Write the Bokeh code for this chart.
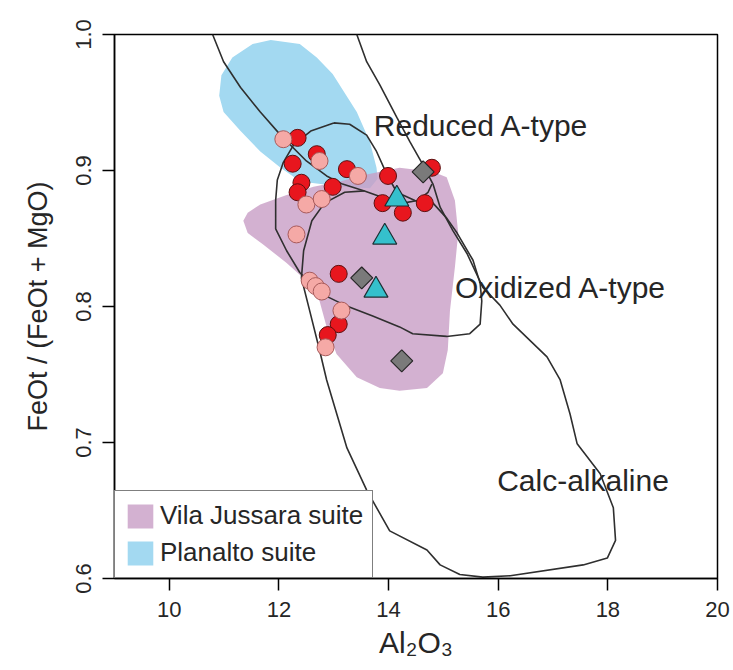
from bokeh.plotting import figure
from bokeh.models import Range1d, FixedTicker, Legend, LegendItem, ColumnDataSource, PrintfTickFormatter
from bokeh.core.properties import value
from bokeh.embed import file_html
from bokeh.resources import INLINE

FONT = "Liberation Sans"
TXT = "#262626"

# ---- samples: Al2O3 (wt%) vs FeOt/(FeOt+MgO) ----
red_al = [12.34, 12.69, 12.25, 13.24, 13.99, 14.79, 12.41, 12.34, 12.98, 13.89, 14.26, 14.66, 13.09, 13.09, 12.89]
red_fe = [0.924, 0.912, 0.905, 0.901, 0.896, 0.902, 0.891, 0.884, 0.888, 0.876, 0.869, 0.876, 0.824, 0.787, 0.779]
pink_al = [12.08, 12.74, 13.44, 12.50, 12.78, 12.32, 12.56, 12.67, 12.78, 13.14, 12.85]
pink_fe = [0.923, 0.907, 0.896, 0.875, 0.879, 0.853, 0.819, 0.815, 0.811, 0.797, 0.770]
tri_al = [14.15, 13.93, 13.77]
tri_fe = [0.879, 0.851, 0.812]
dia_al = [14.63, 13.51, 14.24]
dia_fe = [0.899, 0.821, 0.760]

# ---- suite fields ----
planalto_al = [10.91, 10.95, 11.15, 11.52, 11.85, 12.38, 12.69, 12.98, 13.42, 13.66, 13.78, 13.80, 13.66,
               13.11, 12.76, 12.39, 12.03, 11.66, 11.30, 10.99]
planalto_fe = [0.955, 0.970, 0.983, 0.993, 0.996, 0.993, 0.983, 0.971, 0.943, 0.921, 0.902, 0.894, 0.887,
               0.888, 0.890, 0.892, 0.902, 0.914, 0.929, 0.943]
jussara_al = [11.35, 11.43, 11.66, 12.14, 12.63, 13.11, 13.60, 14.20, 14.81, 15.06, 15.21, 15.27, 15.21,
              15.12, 15.08, 14.99, 14.70, 14.20, 13.84, 13.42, 13.05, 12.87, 12.74, 12.50, 12.14, 11.70, 11.43]
jussara_fe = [0.863, 0.869, 0.875, 0.882, 0.888, 0.892, 0.897, 0.902, 0.899, 0.895, 0.878, 0.854, 0.829,
              0.797, 0.768, 0.751, 0.740, 0.738, 0.740, 0.748, 0.765, 0.785, 0.804, 0.819, 0.832, 0.846, 0.854]

# ---- discrimination field boundaries ----
reduced_al = [10.79, 10.99, 11.30, 11.66, 12.03, 12.50, 12.87, 13.16, 13.56, 13.97, 14.26, 14.53, 14.72, 14.79]
reduced_fe = [1.000, 0.980, 0.961, 0.943, 0.926, 0.907, 0.896, 0.890, 0.885, 0.879, 0.876, 0.878, 0.884, 0.890]
calc_al = [13.42, 13.60, 13.84, 14.15, 14.39, 14.63, 14.81, 14.94, 15.17, 15.43, 15.72, 16.03, 16.27, 16.89,
           17.13, 17.31, 17.44, 17.86, 18.10, 18.14, 17.99, 17.55, 16.22, 15.72, 15.30, 14.94, 14.70, 14.02,
           13.60, 13.24, 12.87, 12.74, 12.56, 12.41, 12.45, 12.60, 12.83, 13.20, 13.56]
calc_fe = [1.000, 0.980, 0.963, 0.939, 0.921, 0.904, 0.890, 0.873, 0.856, 0.839, 0.814, 0.801, 0.787, 0.763,
           0.746, 0.721, 0.699, 0.677, 0.652, 0.628, 0.615, 0.610, 0.602, 0.601, 0.603, 0.610, 0.621, 0.635,
           0.665, 0.696, 0.746, 0.768, 0.797, 0.821, 0.841, 0.863, 0.876, 0.884, 0.885]
oxid_al = [13.00, 13.29, 13.60, 13.78, 13.97, 14.15, 14.48, 14.81, 15.06, 15.25, 15.54, 15.67, 15.70, 15.67,
           15.48, 15.06, 14.44, 14.20, 13.71, 13.20, 12.74, 12.38, 12.14, 11.94, 11.94, 11.97, 12.08, 12.27,
           12.58, 13.00]
oxid_fe = [0.935, 0.934, 0.926, 0.914, 0.897, 0.884, 0.878, 0.876, 0.865, 0.854, 0.834, 0.817, 0.804, 0.787,
           0.780, 0.778, 0.780, 0.785, 0.793, 0.801, 0.810, 0.825, 0.841, 0.857, 0.878, 0.893, 0.906, 0.919,
           0.929, 0.935]

field_names = ["Reduced A-type", "Oxidized A-type", "Calc-alkaline"]
field_al = [13.73, 15.21, 15.98]
field_fe = [0.933, 0.814, 0.672]

p = figure(width=733, height=670, output_backend="svg", toolbar_location=None,
           x_range=Range1d(9, 20), y_range=Range1d(0.6, 1.0),
           min_border_left=114, min_border_right=16, min_border_top=34, min_border_bottom=92)
p.background_fill_color = "white"
p.border_fill_color = "white"
p.outline_line_color = "black"
p.outline_line_width = 1.5
p.xgrid.visible = False
p.ygrid.visible = False

blue_r = p.patch(planalto_al, planalto_fe, fill_color="#a3d9f1", line_color=None)
purple_r = p.patch(jussara_al, jussara_fe, fill_color="#c89dc6", fill_alpha=0.8, line_color=None)

LC = "#2f2f2f"
p.line(reduced_al, reduced_fe, line_color=LC, line_width=1.6)
p.line(calc_al, calc_fe, line_color=LC, line_width=1.6)
p.line(oxid_al, oxid_fe, line_color=LC, line_width=1.6)

lab = ColumnDataSource(dict(x=field_al, y=field_fe, t=field_names))
p.text(x="x", y="y", text="t", source=lab, text_font=value(FONT), text_font_size="30px",
       text_color=TXT, text_baseline="alphabetic", text_align="left")

p.scatter(red_al, red_fe, marker="circle", size=17, fill_color="#e8161e", line_color="#5c1010", line_width=1)
p.scatter(pink_al, pink_fe, marker="circle", size=17, fill_color="#f5a9a6", line_color="#a85a5a", line_width=1)
p.scatter(tri_al, tri_fe, marker="triangle", size=24, fill_color="#35c0cc", line_color="#1d2f33", line_width=1.2)
p.scatter(dia_al, dia_fe, marker="square", size=15.5, angle=0.785, fill_color="#7a7a7a", line_color="#262626", line_width=1.2)

for ax in (p.xaxis[0], p.yaxis[0]):
    ax.axis_line_color = "black"
    ax.axis_line_width = 1.5
    ax.major_tick_line_color = "black"
    ax.major_tick_line_width = 1.5
    ax.major_tick_out = 12
    ax.major_tick_in = 0
    ax.minor_tick_out = 0
    ax.minor_tick_in = 0
    ax.major_label_text_font = FONT
    ax.major_label_text_font_size = "22px"
    ax.major_label_text_color = TXT
    ax.axis_label_text_font = FONT
    ax.axis_label_text_font_style = "normal"
    ax.axis_label_text_color = TXT

p.xaxis.ticker = FixedTicker(ticks=[10, 12, 14, 16, 18, 20])
p.yaxis.ticker = FixedTicker(ticks=[0.6, 0.7, 0.8, 0.9, 1.0])
p.xaxis.formatter = PrintfTickFormatter(format="%d")
p.yaxis.formatter = PrintfTickFormatter(format="%.1f")
p.yaxis.major_label_orientation = "vertical"
p.xaxis.major_label_standoff = 11
p.yaxis.major_label_standoff = 12
p.xaxis.axis_label = "Al₂O₃"
p.xaxis.axis_label_text_font_size = "30px"
p.xaxis.axis_label_standoff = 6
p.yaxis.axis_label = "FeOt / (FeOt + MgO)"
p.yaxis.axis_label_text_font_size = "27px"
p.yaxis.axis_label_standoff = 20

legend = Legend(items=[LegendItem(label="Vila Jussara suite", renderers=[purple_r]),
                       LegendItem(label="Planalto suite", renderers=[blue_r])],
                location="bottom_left", margin=0, padding=9, spacing=6,
                glyph_width=32, glyph_height=30, label_standoff=4, label_height=30,
                label_text_font=FONT, label_text_font_size="26px", label_text_color=TXT,
                border_line_color="black", border_line_width=1.5,
                background_fill_color="white", background_fill_alpha=1)
p.add_layout(legend)

open("out.html", "w").write(file_html(p, INLINE))
